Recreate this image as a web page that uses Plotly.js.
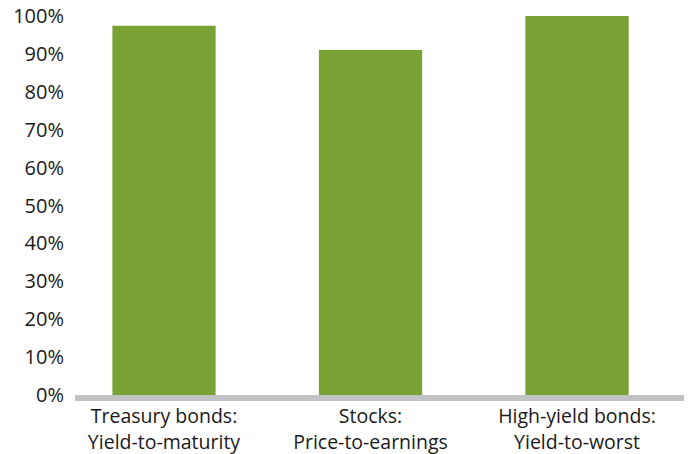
<!DOCTYPE html>
<html>
<head>
<meta charset="utf-8">
<script src="https://cdn.plot.ly/plotly-3.0.1.min.js"></script>
<style>html,body{margin:0;padding:0;background:#fff;}#chart{width:690px;height:454px;}</style>
</head>
<body>
<div id="chart"></div>
<script>
const categories = ["Treasury bonds:<br>Yield-to-maturity", "Stocks:<br>Price-to-earnings", "High-yield bonds:<br>Yield-to-worst"];
const values = [97.4, 91.0, 100];
const yTickVals = [0, 10, 20, 30, 40, 50, 60, 70, 80, 90, 100];
const yTickText = ["0%", "10%", "20%", "30%", "40%", "50%", "60%", "70%", "80%", "90%", "100%"];

const xIdx = categories.map((c, i) => i);

const trace = {
  type: "bar",
  x: xIdx,
  y: values,
  width: 0.5,
  marker: {color: "#78a234"},
  hoverinfo: "skip"
};

const layout = {
  width: 690,
  height: 454,
  margin: {l: 75, r: 6, t: 16, b: 59},
  paper_bgcolor: "#ffffff",
  plot_bgcolor: "#ffffff",
  showlegend: false,
  font: {family: "Open Sans", size: 20, color: "#1a1a1a"},
  xaxis: {
    range: [-0.431, 2.518],
    tickmode: "array",
    tickvals: xIdx,
    ticktext: categories,
    showgrid: false,
    zeroline: false,
    showline: true,
    linecolor: "#c0c2c4",
    linewidth: 6,
    ticks: "",
    ticklabelstandoff: -1,
    tickfont: {family: "Open Sans", size: 19.5, color: "#1a1a1a"}
  },
  yaxis: {
    range: [0, 100],
    tickmode: "array",
    tickvals: yTickVals,
    ticktext: yTickText,
    showgrid: false,
    zeroline: false,
    showline: false,
    ticks: "",
    ticklabelstandoff: 10,
    tickfont: {family: "Open Sans", size: 20, color: "#1a1a1a"}
  }
};

Plotly.newPlot("chart", [trace], layout, {displayModeBar: false, staticPlot: true});
</script>
</body>
</html>
